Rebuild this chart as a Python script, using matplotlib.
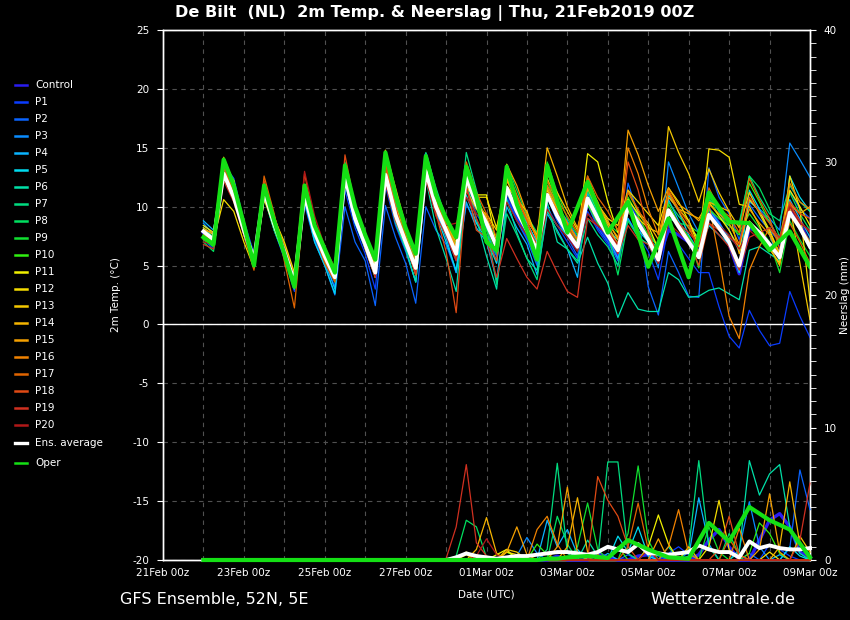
import matplotlib
matplotlib.use('Agg')
import matplotlib.pyplot as plt
from matplotlib.lines import Line2D
from matplotlib.ticker import MultipleLocator

plt.rcParams['font.family'] = ['DejaVu Sans']

# time axis in hours after 21Feb2019 00z (6-hourly members, oper 12-hourly after +240h)
HOURS = list(range(24, 385, 6))
OPER_HOURS = list(range(24, 241, 6)) + list(range(252, 385, 12))

XTICK_HOURS = [0, 48, 96, 144, 192, 240, 288, 336, 384]
XTICK_LABELS = ['21Feb 00z', '23Feb 00z', '25Feb 00z', '27Feb 00z', '01Mar 00z',
                '03Mar 00z', '05Mar 00z', '07Mar 00z', '09Mar 00z']

MEMBERS = ['Control', 'P1', 'P2', 'P3', 'P4', 'P5', 'P6', 'P7', 'P8', 'P9', 'P10',
           'P11', 'P12', 'P13', 'P14', 'P15', 'P16', 'P17', 'P18', 'P19', 'P20']

# 2m temperature (degC), one value every 6h from 22Feb 00z
T_CONTROL = [7.8, 7.0, 13.2, 11.5, 8.2, 5.4, 11.6, 8.6, 6.0, 3.4, 11.2, 8.0, 5.9, 4.2, 12.8, 9.4,
             7.2, 4.6, 13.3, 10.2, 7.5, 5.0, 14.4, 11.0, 8.4, 6.2, 12.6, 10.0, 8.8, 6.8, 11.4, 9.2,
             7.6, 6.0, 11.4, 9.0, 7.6, 6.4, 10.4, 8.6, 7.2, 5.8, 10.4, 8.8, 7.4, 5.6, 8.0, 7.6,
             7.0, 6.0, 9.8, 8.6, 6.8, 4.3, 8.2, 7.8, 6.8, 6.2, 9.8, 8.6, 6.8]
T_P1 = [7.2, 6.4, 12.6, 11.8, 8.4, 5.0, 11.0, 8.0, 5.6, 2.8, 10.6, 7.2, 5.2, 3.2, 11.4, 8.2,
        6.0, 3.0, 11.8, 8.4, 6.2, 3.6, 12.4, 9.6, 7.6, 5.4, 11.8, 9.4, 8.0, 5.8, 10.8, 9.0,
        7.4, 5.2, 10.0, 8.4, 7.0, 5.6, 9.6, 8.0, 6.8, 5.0, 9.0, 7.6, 6.2, 3.8, 8.4, 6.8,
        5.6, 4.4, 4.4, 1.5, -1.0, -2.0, 1.2, -0.5, -1.8, -1.6, 2.8, 0.7, -1.1]
T_P2 = [8.4, 7.8, 13.6, 12.4, 8.8, 6.0, 11.8, 8.6, 6.0, 3.2, 10.2, 7.0, 5.0, 2.5, 10.0, 7.0,
        5.4, 1.6, 10.1, 7.4, 5.2, 1.8, 10.0, 8.0, 6.8, 4.4, 10.2, 8.6, 7.6, 5.8, 10.6, 8.8,
        7.2, 5.0, 10.8, 8.8, 7.4, 5.8, 10.2, 8.2, 7.0, 5.4, 12.0, 9.4, 3.2, 0.8, 6.2, 4.4,
        2.4, 2.3, 13.3, 10.8, 9.4, 7.2, 10.2, 9.0, 8.0, 7.0, 11.4, 9.8, 9.0]
T_P3 = [8.6, 7.6, 13.0, 11.0, 7.8, 5.2, 11.6, 8.8, 6.4, 3.8, 11.4, 8.2, 6.0, 4.2, 13.4, 9.8,
        7.4, 4.8, 13.8, 10.4, 7.6, 4.2, 14.5, 11.2, 8.6, 6.2, 12.2, 10.0, 8.2, 5.2, 12.4, 10.4,
        8.6, 7.0, 11.8, 10.0, 8.8, 7.4, 11.4, 9.6, 8.4, 6.8, 10.6, 8.6, 7.0, 4.8, 13.8, 11.6,
        9.4, 7.8, 11.0, 9.6, 8.0, 6.2, 10.4, 9.8, 9.0, 8.0, 15.4, 14.0, 12.5]
T_P4 = [8.8, 8.0, 13.4, 12.0, 8.4, 5.8, 11.4, 8.4, 6.2, 3.4, 10.8, 7.4, 5.4, 3.0, 12.0, 8.6,
        6.4, 4.0, 12.4, 9.0, 6.6, 4.4, 12.8, 9.6, 7.4, 4.4, 10.4, 8.2, 7.0, 3.8, 10.0, 8.2,
        6.8, 4.2, 9.4, 8.0, 6.4, 4.0, 11.2, 9.0, 7.4, 5.6, 9.0, 7.4, 6.8, 5.2, 10.6, 8.8,
        7.4, 6.0, 9.8, 8.6, 7.4, 6.6, 10.6, 9.6, 8.8, 7.0, 10.6, 9.0, 7.4]
T_P5 = [7.6, 7.0, 12.4, 11.2, 8.0, 5.6, 10.8, 8.0, 5.8, 3.0, 10.6, 7.0, 5.0, 2.6, 12.2, 8.6,
        6.6, 4.0, 12.6, 8.8, 6.4, 3.6, 12.4, 9.4, 7.0, 4.6, 11.0, 8.6, 7.2, 5.2, 12.6, 10.0,
        8.6, 7.0, 9.6, 8.4, 7.6, 6.6, 11.6, 9.4, 8.0, 7.2, 10.2, 8.0, 7.0, 6.6, 11.0, 9.6,
        7.6, 6.2, 8.4, 7.6, 6.8, 4.4, 11.4, 9.8, 7.6, 5.4, 12.6, 10.8, 9.6]
T_P6 = [8.2, 7.4, 12.8, 12.0, 8.0, 5.2, 11.4, 8.6, 6.4, 3.8, 11.6, 8.2, 6.2, 4.6, 13.6, 9.8,
        7.2, 4.2, 12.2, 8.6, 6.4, 3.6, 12.4, 8.2, 5.6, 2.8, 12.0, 9.0, 5.8, 3.0, 10.6, 7.8,
        5.6, 4.6, 10.4, 7.0, 6.4, 5.2, 7.4, 5.2, 3.5, 0.6, 2.7, 1.3, 1.1, 1.1, 4.4, 3.8,
        2.3, 2.4, 2.9, 3.1, 2.6, 2.1, 6.3, 6.6, 6.0, 5.4, 9.6, 8.0, 6.4]
T_P7 = [7.4, 6.6, 13.0, 11.4, 7.6, 5.0, 11.0, 8.2, 6.0, 3.4, 11.4, 7.8, 5.6, 3.6, 12.6, 9.2,
        6.8, 4.8, 12.8, 9.6, 7.4, 5.4, 14.6, 11.6, 9.0, 6.6, 14.6, 11.4, 8.4, 3.4, 9.4, 7.6,
        5.6, 3.8, 9.8, 7.8, 6.4, 5.4, 9.0, 7.6, 6.6, 5.0, 9.6, 8.4, 7.6, 6.6, 10.4, 9.2,
        8.2, 7.4, 10.6, 9.8, 9.0, 8.4, 12.6, 10.8, 9.4, 8.8, 11.8, 10.4, 9.6]
T_P8 = [7.0, 6.2, 13.4, 12.2, 8.6, 5.6, 12.0, 9.0, 6.6, 4.0, 11.6, 8.4, 6.4, 4.6, 13.8, 10.0,
        7.4, 5.0, 14.0, 10.4, 7.8, 5.8, 13.4, 10.6, 8.8, 6.8, 13.2, 10.8, 9.0, 7.2, 13.6, 11.4,
        9.2, 7.8, 12.4, 10.2, 8.4, 7.0, 11.4, 9.2, 7.8, 4.2, 8.8, 7.4, 6.8, 6.0, 9.0, 8.6,
        8.4, 7.8, 11.0, 9.6, 8.8, 8.6, 12.6, 11.6, 9.8, 7.4, 11.2, 9.4, 8.0]
T_P9 = [7.2, 6.6, 12.6, 10.6, 7.8, 4.8, 10.8, 8.0, 5.8, 3.2, 10.8, 7.6, 5.6, 3.8, 12.4, 9.0,
        6.8, 4.6, 12.8, 9.4, 7.2, 5.2, 13.4, 10.4, 8.2, 6.2, 12.2, 9.8, 8.0, 6.0, 11.2, 9.4,
        7.8, 5.6, 13.8, 11.2, 9.0, 7.6, 12.4, 10.4, 8.6, 7.8, 11.2, 9.6, 8.0, 6.4, 9.4, 8.4,
        7.4, 4.8, 10.8, 9.2, 8.4, 7.8, 9.4, 8.2, 7.0, 4.4, 8.8, 7.2, 5.8]
T_P10 = [7.6, 7.0, 13.8, 12.2, 8.2, 5.4, 11.8, 8.8, 6.4, 3.8, 11.4, 8.0, 6.0, 4.2, 13.0, 9.4,
         7.0, 4.6, 13.2, 9.8, 7.6, 5.6, 13.8, 10.8, 8.6, 6.6, 12.8, 10.6, 8.8, 6.8, 12.6, 10.2,
         8.2, 6.6, 12.2, 9.8, 8.0, 6.8, 10.2, 8.6, 7.4, 6.2, 10.8, 9.2, 7.6, 5.8, 10.2, 8.6,
         7.4, 6.2, 9.8, 9.0, 8.4, 7.6, 12.0, 10.4, 8.6, 7.2, 9.6, 8.2, 7.0]
T_P11 = [8.4, 7.8, 12.6, 11.6, 7.6, 5.0, 11.2, 9.0, 7.0, 4.4, 11.8, 8.6, 6.2, 4.4, 12.6, 9.6,
         7.8, 5.4, 14.2, 11.0, 8.0, 5.8, 12.8, 10.4, 8.8, 7.4, 12.8, 11.0, 11.0, 6.8, 11.8, 10.6,
         9.0, 7.6, 11.4, 9.8, 8.6, 7.2, 14.5, 13.8, 10.4, 7.8, 10.6, 9.4, 8.4, 6.4, 11.6, 10.4,
         8.8, 7.0, 10.4, 9.2, 8.0, 6.4, 10.6, 9.6, 8.0, 6.0, 11.4, 10.0, 8.4]
T_P12 = [8.0, 7.2, 10.6, 9.6, 7.0, 4.8, 10.6, 8.4, 6.6, 4.2, 11.6, 8.6, 6.4, 4.8, 13.0, 9.6,
         7.4, 5.2, 13.6, 10.0, 7.8, 5.6, 13.2, 10.4, 8.4, 6.4, 11.6, 10.8, 10.8, 8.2, 12.4, 10.6,
         9.6, 7.2, 12.4, 10.4, 8.4, 6.4, 11.8, 10.2, 9.0, 8.4, 11.4, 10.4, 9.4, 8.4, 11.2, 9.8,
         8.8, 6.6, 14.9, 14.8, 14.2, 10.2, 10.0, 8.4, 6.4, 5.2, 12.6, 9.8, 2.0]
T_P13 = [8.2, 7.6, 13.6, 12.2, 8.4, 5.8, 12.0, 9.0, 6.6, 3.8, 11.2, 8.0, 6.0, 4.4, 12.8, 9.4,
         7.4, 5.0, 14.8, 11.6, 8.4, 5.8, 13.2, 10.4, 8.2, 6.2, 11.4, 9.8, 9.4, 8.0, 12.2, 10.8,
         8.8, 7.6, 12.8, 11.2, 9.6, 8.0, 11.6, 10.0, 8.6, 7.4, 9.8, 9.0, 8.2, 7.8, 16.8, 14.6,
         12.8, 10.4, 13.2, 11.2, 9.6, 8.2, 11.2, 9.4, 7.8, 6.0, 10.2, 5.2, 0.4]
T_P14 = [7.8, 7.4, 13.8, 11.8, 8.2, 5.6, 11.4, 8.8, 6.8, 4.2, 11.2, 8.2, 6.2, 4.6, 12.8, 9.4,
         7.0, 4.4, 13.0, 9.6, 7.2, 5.0, 13.2, 10.4, 8.6, 7.0, 12.8, 10.4, 9.2, 6.6, 12.2, 10.6,
         9.0, 7.4, 15.0, 12.6, 10.0, 8.2, 11.6, 9.8, 8.4, 6.8, 11.4, 9.6, 8.6, 7.2, 10.8, 9.8,
         9.4, 9.0, 10.4, 10.0, 9.6, 6.0, 8.8, 7.4, 6.6, 5.0, 10.2, 9.4, 10.0]
T_P15 = [8.0, 7.8, 14.2, 12.0, 8.4, 5.6, 12.0, 9.2, 6.6, 3.6, 11.6, 8.4, 6.4, 4.4, 13.4, 9.8,
         7.4, 4.6, 13.2, 9.6, 7.0, 4.2, 12.8, 10.6, 8.8, 6.6, 12.0, 10.4, 9.0, 6.8, 13.6, 11.8,
         9.4, 7.2, 11.6, 9.8, 8.6, 7.2, 12.6, 10.2, 8.8, 7.2, 16.5, 14.4, 11.8, 9.6, 11.6, 10.2,
         9.6, 8.8, 10.2, 9.4, 8.6, 6.8, 9.8, 8.6, 7.6, 5.8, 10.4, 8.4, 7.0]
T_P16 = [7.6, 7.2, 13.2, 11.4, 8.0, 5.0, 11.4, 9.0, 6.2, 3.2, 11.4, 7.8, 5.4, 3.8, 12.8, 9.4,
         7.2, 4.6, 13.6, 10.6, 7.8, 5.6, 13.8, 11.2, 8.4, 6.4, 12.4, 10.6, 8.8, 6.8, 13.2, 11.0,
         9.0, 7.4, 11.8, 10.2, 8.6, 7.2, 11.8, 10.4, 8.0, 6.8, 15.0, 12.8, 9.8, 7.6, 11.2, 9.6,
         8.2, 6.6, 10.2, 5.7, 0.7, -1.2, 4.6, 6.6, 8.2, 7.0, 12.0, 10.4, 9.8]
T_P17 = [7.4, 7.2, 13.6, 11.2, 7.6, 4.6, 12.6, 9.4, 5.4, 1.4, 10.8, 7.6, 5.2, 3.6, 12.6, 9.2,
         6.4, 4.0, 13.8, 10.8, 7.4, 5.2, 14.2, 10.8, 8.0, 5.6, 13.8, 11.2, 9.4, 7.4, 12.8, 10.8,
         8.8, 6.4, 12.2, 10.6, 9.2, 7.8, 12.6, 10.8, 9.6, 8.0, 11.2, 9.8, 8.0, 5.4, 11.4, 9.8,
         8.6, 6.0, 11.6, 9.8, 9.2, 7.8, 12.4, 10.6, 9.0, 6.4, 8.6, 7.0, 5.2]
T_P18 = [7.2, 6.8, 12.6, 11.0, 7.8, 5.2, 12.2, 9.2, 6.2, 3.6, 12.8, 8.6, 5.6, 3.8, 14.4, 10.0,
         7.0, 4.6, 13.4, 10.0, 7.0, 4.2, 12.8, 9.4, 6.2, 1.0, 11.8, 8.0, 7.4, 5.4, 11.4, 9.4,
         8.4, 6.8, 11.2, 9.6, 8.4, 6.8, 10.4, 9.0, 8.0, 6.6, 13.8, 11.4, 7.8, 5.8, 9.8, 8.6,
         7.2, 5.0, 8.6, 8.0, 7.4, 6.8, 10.8, 9.6, 8.6, 7.2, 10.4, 9.4, 9.0]
T_P19 = [6.8, 6.4, 12.2, 10.4, 7.6, 5.0, 11.0, 8.6, 6.0, 3.4, 11.2, 8.0, 5.8, 4.2, 12.4, 9.0,
         6.6, 4.0, 12.0, 8.8, 6.8, 4.4, 12.4, 9.2, 7.6, 5.4, 11.6, 9.0, 7.2, 4.0, 7.3, 5.6,
         4.0, 3.0, 6.2, 4.4, 2.8, 2.3, 9.0, 8.4, 7.6, 6.0, 8.4, 7.2, 6.8, 5.2, 9.4, 8.6,
         7.8, 6.8, 8.6, 7.6, 6.6, 4.6, 7.4, 7.8, 8.2, 7.4, 10.2, 8.8, 7.8]
T_P20 = [7.0, 6.8, 12.4, 10.8, 7.8, 5.4, 11.6, 8.8, 6.6, 4.0, 13.0, 9.2, 6.6, 4.8, 12.2, 9.0,
         6.6, 4.2, 12.0, 9.0, 6.8, 4.8, 12.2, 9.6, 8.4, 8.6, 10.8, 9.4, 8.6, 7.0, 10.4, 8.8,
         7.6, 5.6, 9.8, 8.4, 7.4, 6.2, 9.4, 8.4, 7.8, 6.8, 9.6, 8.4, 7.4, 5.2, 8.6, 7.8,
         7.0, 5.8, 9.0, 8.4, 7.6, 6.4, 8.0, 7.2, 6.8, 5.6, 10.0, 8.6, 8.0]
T_MEAN = [7.9, 7.2, 12.8, 10.8, 8.0, 5.5, 11.3, 8.5, 6.2, 3.6, 11.0, 7.8, 5.8, 4.0, 12.6, 9.0,
          6.8, 4.4, 12.7, 9.3, 7.0, 4.8, 13.0, 10.0, 8.0, 6.0, 12.5, 10.2, 8.6, 6.6, 11.6, 9.6,
          8.0, 6.3, 11.0, 9.2, 7.8, 6.6, 10.7, 9.0, 7.6, 6.3, 10.0, 8.6, 7.2, 5.5, 9.7, 8.3,
          7.0, 5.7, 9.3, 8.2, 7.0, 5.0, 8.6, 7.8, 6.8, 5.7, 9.5, 8.2, 6.6]
T_OPER = [7.4, 6.8, 14.0, 11.8, 8.5, 5.0, 11.8, 8.8, 6.0, 3.2, 11.8, 8.4, 6.4, 4.4, 13.5, 10.0,
          7.6, 5.5, 14.6, 11.0, 8.2, 6.0, 14.3, 11.0, 9.0, 7.4, 13.4, 10.8, 7.0, 6.3, 13.4, 10.2,
          8.0, 5.5, 13.5, 10.5, 7.8,
          12.1, 7.8, 10.4, 4.9, 9.0, 4.0, 11.2, 8.7, 8.6, 6.3, 7.9, 4.9]

# precipitation (mm per 6h); dry until 28Feb 00z, listed from there on
DRY = [0.0] * 24
R_CONTROL = [0, 0, 0, 0, 0, 0, 0, 0, 0, 0, 0, 0.3, 0, 0, 0, 0.5, 0.2, 0, 0, 0.3,
             0.4, 0, 0, 0, 0, 0.4, 1.5, 2.3, 1.0, 0, 0, 1.5, 3.0, 3.5, 2.5, 0.6, 0.2]
R_P1 = [0, 0, 0, 0, 0, 0, 0, 0, 0, 0, 0, 0, 0.2, 0, 0, 0, 0, 0, 0, 0,
        0, 0, 0.5, 1.0, 0.4, 0, 0, 0, 0, 0, 0, 0, 1.2, 0.8, 0.3, 0, 0]
R_P2 = [0, 0, 0, 0, 0, 0, 0, 0, 0, 0, 0, 0, 0, 0, 0, 0, 0, 0, 0.4, 0,
        0.8, 0.3, 0, 0, 0.6, 0, 0, 0, 0, 0, 0.5, 0, 0, 0, 0.9, 6.8, 3.8]
R_P3 = [0, 0, 0, 0, 0, 0, 0, 0.3, 1.7, 0.5, 0, 0, 0, 0, 0, 0, 0, 0, 0, 0,
        0, 0.6, 0, 0, 0, 0, 0, 0, 0, 0.8, 4.4, 1.0, 0, 0, 0, 0, 0]
R_P4 = [0, 0, 0, 0, 0, 0, 0, 0, 0, 0, 3.0, 1.0, 2.3, 0.4, 0, 0, 0.5, 0, 0, 0,
        0, 0, 0, 0, 0.3, 4.7, 1.2, 0, 0, 0, 0, 0, 0, 0.4, 0, 0, 0]
R_P5 = [0, 0, 0, 0, 0, 0, 0, 0, 0, 0, 0, 0, 0, 0.8, 0, 0, 0, 1.8, 0.6, 2.5,
        0.3, 0, 0, 0, 0, 0, 0, 0, 0, 0, 0, 0, 0, 0, 1.0, 0.3, 0]
R_P6 = [0, 0, 0, 0, 0, 0, 0, 0, 0, 0, 0, 0, 0, 0, 1.5, 0.3, 0, 0, 0, 0,
        0, 0, 1.0, 0, 0, 0, 0, 0, 0, 0.6, 7.5, 4.9, 6.5, 7.2, 2.5, 0.5, 0]
R_P7 = [0, 0, 0, 0, 0, 0, 0, 0, 0, 0, 0.8, 7.3, 0.5, 0, 0, 0, 7.4, 7.4, 0.5, 0,
        0, 0, 0, 0, 0.8, 7.5, 1.0, 0, 0, 0, 0, 0, 0, 0, 0, 0, 0]
R_P8 = [0, 0.3, 3.0, 2.5, 0.2, 0, 0, 0, 0, 0, 0, 3.3, 1.2, 0, 0, 0, 0, 0, 0, 0,
        0, 0, 0, 0, 0, 0, 0, 0, 2.0, 0.4, 0, 0, 0, 0, 0, 0, 0]
R_P9 = [0, 0, 0, 0, 0, 0, 0, 0, 0, 0, 0, 0, 0, 1.0, 4.3, 0.8, 0, 0, 2.0, 7.1,
        1.5, 0, 0, 0, 0, 0, 2.5, 0.6, 0, 0, 0, 0, 0, 0, 0, 0, 0]
R_P10 = [0, 0, 0, 0, 0, 0, 0.6, 0.2, 0, 1.2, 0.4, 0, 0, 0, 0, 0, 0, 1.0, 0, 0,
         0, 0, 0, 0, 0, 0, 0, 0, 0, 0, 0.5, 2.8, 2.0, 0.5, 0, 0, 0]
R_P11 = [0, 0, 0.6, 0, 0, 0.4, 0.8, 0, 0, 0, 0, 0, 0, 0, 0, 0, 0, 0, 0, 0,
         1.0, 3.4, 1.2, 0, 0, 0, 0, 0, 0, 0, 0, 0, 0, 0, 0, 0, 0]
R_P12 = [0, 0, 0.4, 0, 0, 0, 0.6, 0.4, 0, 0, 0, 0, 0, 0, 0, 0, 0, 0, 0, 0,
         0, 0, 0, 0, 0, 0, 1.0, 4.5, 0.8, 0, 0, 0, 0.6, 0, 0, 0, 0]
R_P13 = [0, 0, 0, 0, 0, 0, 0.8, 0.6, 0, 0, 0, 0, 0, 0, 0, 0, 0, 0, 0, 0,
         0, 0, 0, 0, 1.0, 0, 0, 0, 0, 0, 0, 0, 0, 0, 0, 1.8, 0.6]
R_P14 = [0, 0, 0, 0.8, 3.2, 0.5, 0, 0, 0, 0, 0, 0, 1.0, 4.7, 0.6, 0, 0, 0, 0, 0,
         0, 0, 0, 0, 0, 0, 0, 0, 0, 0, 0, 0, 0, 1.0, 5.9, 1.2, 0]
R_P15 = [0, 0, 0, 0, 0, 0, 0.6, 2.5, 0.4, 0, 0, 1.0, 5.5, 0.5, 0, 0, 0, 0, 0, 0,
         0, 1.6, 0, 0, 0, 0, 0, 0, 0, 0, 0, 0.8, 5.0, 0.6, 0, 0, 0]
R_P16 = [0, 0, 0, 0, 0, 0, 0, 0, 0, 2.3, 3.3, 1.2, 0, 0, 0, 0, 0, 0, 0, 0,
         0, 0, 1.0, 3.8, 0.5, 0, 0, 0, 0, 2.4, 0, 0, 0, 0, 0, 0, 0]
R_P17 = [0, 0, 0, 0, 0, 0, 0, 0, 0, 0, 0, 0, 0, 0, 0, 0.4, 0, 0, 1.0, 4.3,
         0.8, 0, 0, 0, 0, 0, 0, 0, 1.6, 0.4, 0, 0, 0, 0, 0, 0, 0]
R_P18 = [0, 0, 0, 0, 0, 0, 0, 0, 0, 0, 0, 0, 0, 0, 0, 6.3, 4.5, 3.3, 1.0, 0,
         0, 0, 0, 0, 0, 0, 0, 0.8, 3.3, 0.4, 0, 0, 0, 0, 0, 0, 0]
R_P19 = [0.1, 2.5, 7.2, 1.3, 0.3, 0, 0, 0, 0, 0, 0, 0, 0, 0, 0, 0, 0, 0, 0, 0,
         0, 0, 0, 0, 0, 0, 0, 0, 0, 0, 0, 0, 0, 0, 0, 1.5, 5.8]
R_P20 = [0, 0, 0, 0.3, 1.6, 0.4, 0, 0, 0, 0, 0, 0, 0, 0, 0, 0, 0, 0, 0, 0,
         0.8, 0, 0, 0, 0, 0, 0, 0, 0, 0, 0, 0, 0, 0, 0, 0, 0]
R_MEAN = [0, 0.2, 0.5, 0.3, 0.2, 0.1, 0.2, 0.3, 0.3, 0.4, 0.5, 0.6, 0.6, 0.5, 0.4, 0.6,
          1.0, 0.8, 0.6, 1.2, 0.5, 0.5, 0.4, 0.5, 0.6, 1.1, 0.8, 0.6, 0.6, 0.2, 1.4, 0.9,
          1.1, 0.9, 0.8, 0.8, 0.9]
R_OPER = [0, 0, 0, 0, 0, 0, 0, 0, 0, 0, 0.1, 0.1, 0.2,
          0.3, 0.15, 1.5, 0.8, 0.2, 0.1, 2.8, 1.4, 4.0, 3.0, 2.3, 0.2]

COLORS = ['#2a1cf0', '#0a3cff', '#0a64ff', '#0a8cff', '#0ab4ff', '#00dcf0', '#00e0a8',
          '#00dc80', '#00e060', '#10e030', '#30f010', '#f0f000', '#f5dc00', '#f5c800',
          '#f5b400', '#f5a000', '#f08200', '#e06400', '#e04a14', '#d03020', '#b01818']
OPER_COLOR = '#14e014'

temps = [T_CONTROL, T_P1, T_P2, T_P3, T_P4, T_P5, T_P6, T_P7, T_P8, T_P9, T_P10,
         T_P11, T_P12, T_P13, T_P14, T_P15, T_P16, T_P17, T_P18, T_P19, T_P20]
rains = [R_CONTROL, R_P1, R_P2, R_P3, R_P4, R_P5, R_P6, R_P7, R_P8, R_P9, R_P10,
         R_P11, R_P12, R_P13, R_P14, R_P15, R_P16, R_P17, R_P18, R_P19, R_P20]
rains = [DRY + r for r in rains]
rain_mean = DRY + R_MEAN
rain_oper = DRY + R_OPER

for t, r in zip(temps, rains):
    assert len(t) == len(HOURS) and len(r) == len(HOURS)
assert len(T_OPER) == len(OPER_HOURS) and len(rain_oper) == len(OPER_HOURS)

fig = plt.figure(figsize=(8.5, 6.2), dpi=100, facecolor='black')
ax = fig.add_axes([163 / 850, 60 / 620, 647 / 850, 530 / 620], facecolor='black')
ax2 = ax.twinx()

fs = 7.5
for a in (ax, ax2):
    for s in a.spines.values():
        s.set_color('white')
        s.set_linewidth(1)

# temperature
for k, (t, c) in enumerate(zip(temps, COLORS)):
    ax.plot(HOURS, t, color=c, lw=2.4 if k == 0 else 0.9, zorder=3)
ax.plot(HOURS, T_MEAN, color='white', lw=2.8, zorder=4)
ax.plot(OPER_HOURS, T_OPER, color=OPER_COLOR, lw=3, zorder=5)

# precipitation
for k, (r, c) in enumerate(zip(rains, COLORS)):
    ax2.plot(HOURS, r, color=c, lw=2.4 if k == 0 else 0.9, zorder=3, clip_on=False)
ax2.plot(HOURS, rain_mean, color='white', lw=2.8, zorder=4, clip_on=False)
ax2.plot(OPER_HOURS, rain_oper, color=OPER_COLOR, lw=3, zorder=5, clip_on=False)

ax.axhline(0, color='white', lw=1, zorder=2)
ax.set_xlim(0, 384)
ax.set_ylim(-20, 25)
ax2.set_ylim(0, 40)

ax.set_yticks(range(-20, 26, 5))
ax.set_yticklabels([str(v) for v in range(-20, 26, 5)])
ax.set_xticks(XTICK_HOURS)
ax.set_xticklabels(XTICK_LABELS)
ax.xaxis.set_minor_locator(MultipleLocator(24))
ax.grid(True, which='both', color='#505050', ls=(0, (4, 4)), lw=0.8)
ax.set_axisbelow(True)

ax.tick_params(axis='y', colors='white', labelsize=fs, length=4, direction='out', pad=6)
ax.tick_params(axis='x', which='both', colors='white', labelsize=fs, length=0, pad=6)
ax2.set_yticks([0, 10, 20, 30, 40])
ax2.yaxis.set_minor_locator(MultipleLocator(1))
ax2.tick_params(axis='y', which='major', colors='white', labelsize=fs, length=4, pad=6)
ax2.tick_params(axis='y', which='minor', colors='white', length=4)

ax.set_ylabel('2m Temp. (°C)', color='white', fontsize=fs, labelpad=8)
ax2.set_ylabel('Neerslag (mm)', color='white', fontsize=fs, labelpad=2)
ax.set_xlabel('Date (UTC)', color='white', fontsize=fs, labelpad=8)

fig.text(435 / 850, 1 - 13 / 620, 'De Bilt  (NL)  2m Temp. & Neerslag | Thu, 21Feb2019 00Z',
         color='white', fontsize=11.6, fontweight='bold', ha='center', va='center')
fig.text(120 / 850, 1 - 600 / 620, 'GFS Ensemble, 52N, 5E', color='white', fontsize=11.5,
         ha='left', va='center')
fig.text(795 / 850, 1 - 600 / 620, 'Wetterzentrale.de', color='white', fontsize=11.5,
         ha='right', va='center')

# legend
labels = MEMBERS + ['Ens. average', 'Oper']
leg_colors = COLORS + ['white', OPER_COLOR]
leg_y = [85 + 17 * k for k in range(21)] + [443, 463]
for lab, c, yp in zip(labels, leg_colors, leg_y):
    y = 1 - yp / 620
    fig.add_artist(Line2D([15 / 850, 27 / 850], [y, y], color=c,
                          lw=2.4 if lab == 'Ens. average' else 1.8,
                          transform=fig.transFigure))
    fig.text(35 / 850, y, lab, color='white', fontsize=fs, va='center', ha='left')

fig.savefig('out.png', dpi=100, facecolor='black')
